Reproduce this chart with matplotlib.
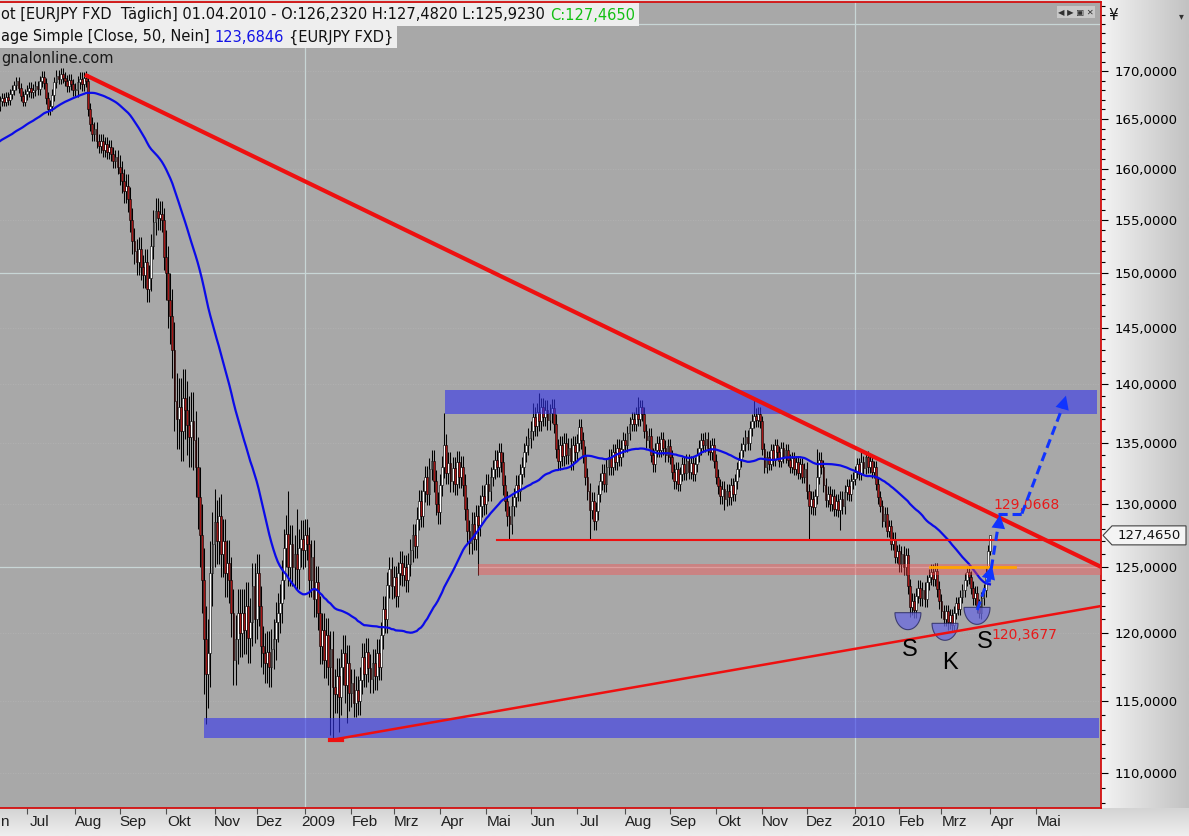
import numpy as np
import pandas as pd
import matplotlib
matplotlib.use("Agg")
import matplotlib.pyplot as plt
from matplotlib import patches, transforms
from matplotlib.colors import LinearSegmentedColormap
from matplotlib.ticker import FixedLocator, FuncFormatter, NullFormatter

# ---------------- daten (EURJPY, täglich) ----------------
month_labels = ['Jun', 'Jul', 'Aug', 'Sep', 'Okt', 'Nov', 'Dez', '2009', 'Feb', 'Mrz',
                'Apr', 'Mai', 'Jun', 'Jul', 'Aug', 'Sep', 'Okt', 'Nov', 'Dez', '2010',
                'Feb', 'Mrz', 'Apr']

closes_by_month = [
    [166.3, 166.9, 167.2, 166.8, 167.3, 167.0, 167.6, 168.0, 168.5, 168.9, 168.2, 167.4, 166.8, 167.6],
    [167.9, 168.2, 167.8, 168.0, 168.4, 168.1, 168.9, 169.4, 168.7, 167.2, 166.0, 166.4, 167.5, 168.8,
     169.5, 169.2, 169.7, 169.3, 169.0, 168.4, 169.1, 168.6, 168.0],
    [168.0, 168.8, 169.2, 168.6, 169.3, 169.0, 166.0, 164.5, 163.5, 164.0, 162.8, 162.3, 162.8, 161.9,
     162.5, 161.7, 162.2, 161.5, 160.8, 161.2, 160.2],
    [159.6, 158.8, 157.8, 158.3, 157.0, 155.0, 153.0, 152.0, 151.0, 152.2, 150.5, 149.8, 151.0, 148.5,
     149.5, 152.5, 154.8, 155.9, 155.2, 155.6, 155.0, 151.5],
    [150.0, 147.5, 146.0, 143.0, 138.5, 137.0, 138.0, 136.0, 138.8, 137.8, 136.5, 135.5, 136.8, 135.2,
     133.0, 130.5, 127.5, 124.0, 119.5, 117.0, 118.5, 124.5, 126.8],
    [128.5, 127.0, 129.0, 126.0, 127.0, 124.5, 125.3, 124.0, 121.5, 118.0, 119.5, 121.5, 120.0, 121.5,
     120.2, 122.0, 119.6, 120.8, 123.5, 121.0],
    [124.5, 122.0, 119.0, 118.5, 117.8, 118.6, 117.5, 118.8, 119.5, 120.8, 121.5, 122.2, 124.0, 126.5,
     127.6, 125.0, 126.8, 125.0, 126.0, 124.8, 126.5, 127.2, 126.3],
    [127.5, 126.8, 124.0, 125.8, 122.5, 123.8, 121.5, 119.0, 120.2, 118.0, 119.8, 117.5, 118.8, 116.0,
     115.5, 116.8, 115.3, 117.5, 118.5, 116.2, 117.8, 115.6],
    [116.3, 114.9, 115.8, 115.0, 116.5, 118.2, 117.0, 118.6, 117.4, 116.6, 117.8, 116.8, 118.5, 117.5,
     119.8, 121.8, 121.0, 123.6, 124.8, 123.5],
    [124.2, 122.8, 124.5, 125.3, 124.4, 125.0, 124.0, 125.2, 126.3, 127.5, 126.6, 128.8, 130.2, 129.0,
     131.0, 132.2, 130.8, 132.8, 133.5, 131.8, 130.0, 129.3],
    [131.5, 133.0, 134.8, 132.5, 133.3, 131.8, 132.9, 131.6, 133.4, 132.2, 133.0, 131.5, 129.6, 127.8,
     126.9, 128.4, 127.2, 129.0, 128.3, 129.8, 130.6, 130.0],
    [131.6, 131.0, 132.2, 132.8, 133.6, 133.0, 134.2, 133.4, 131.5, 130.2, 129.0, 128.4, 129.8, 130.5,
     131.5, 131.0, 132.4, 133.0, 134.2, 134.8, 135.4],
    [136.0, 137.2, 136.4, 137.6, 136.8, 138.0, 137.2, 137.8, 136.9, 137.5, 137.9, 136.6, 134.5, 133.5,
     134.8, 133.9, 135.0, 134.0, 134.6, 133.5, 134.8, 134.2],
    [135.0, 136.3, 135.2, 134.0, 132.2, 131.0, 129.5, 130.2, 128.6, 129.4, 130.8, 131.8, 132.5, 131.6,
     133.0, 133.8, 133.0, 134.2, 133.4, 134.6, 133.8, 134.5, 135.2],
    [134.8, 135.8, 136.6, 137.0, 136.6, 137.4, 137.0, 138.0, 137.4, 136.0, 135.2, 135.6, 134.0, 133.2,
     134.4, 135.0, 134.4, 135.3, 134.6, 134.0, 134.7],
    [133.8, 132.6, 131.8, 132.8, 131.6, 132.4, 133.2, 132.5, 133.5, 132.6, 133.3, 132.4, 133.2, 134.0,
     134.6, 135.2, 134.8, 135.3, 134.6, 134.2, 134.8, 133.5],
    [132.2, 131.4, 130.6, 131.2, 130.4, 131.0, 130.5, 131.5, 130.8, 131.8, 132.8, 133.6, 134.4, 134.9,
     135.5, 135.0, 136.2, 136.8, 137.3, 136.9, 137.4, 136.8],
    [134.5, 133.0, 133.8, 133.2, 134.4, 133.6, 134.8, 134.2, 133.5, 134.6, 133.8, 134.4, 133.6, 133.0,
     133.7, 132.8, 133.4, 132.5, 133.2, 132.2, 132.8],
    [131.0, 129.8, 130.4, 129.7, 130.6, 132.2, 133.6, 133.0, 131.5, 130.3, 130.8, 130.0, 130.6, 129.6,
     130.2, 129.5, 130.4, 129.8, 130.9, 131.4, 130.8, 131.8, 132.0],
    [132.6, 133.2, 132.4, 133.4, 132.9, 133.8, 133.0, 133.5, 132.6, 133.0, 131.6, 130.5, 129.8, 128.6,
     129.2, 127.8, 128.2, 126.8, 127.2, 125.8, 126.2],
    [125.2, 126.0, 125.0, 125.9, 123.5, 121.9, 122.4, 121.7, 122.8, 123.4, 122.6, 123.2, 122.5, 123.8,
     124.2, 124.6, 124.1, 124.7, 123.3, 122.4],
    [121.6, 121.0, 121.6, 120.8, 121.3, 120.6, 121.5, 122.2, 121.8, 122.7, 123.2, 124.0, 124.6, 124.2,
     123.4, 122.6, 123.0, 122.0, 121.5, 122.6, 123.2, 124.5, 126.232],
    [127.465],
]

# schlusskurse vor dem sichtbaren bereich (nur für den gleitenden durchschnitt)
pre_closes = [160.2, 159.5, 160.8, 161.5, 160.9, 162.0, 161.3, 160.5, 161.8, 162.4,
              161.0, 160.3, 159.8, 160.6, 161.4, 162.1, 161.7, 160.9, 161.6, 162.3,
              161.2, 160.8, 161.9, 162.6, 162.0, 161.4, 162.2, 161.5, 162.4, 163.0,
              163.4, 162.8, 163.6, 164.2, 163.5, 162.9, 163.8, 164.5, 163.9, 164.8,
              165.3, 164.6, 165.0, 164.2, 163.7, 164.9, 165.4, 165.8, 166.0]

# typische dochtlänge je monat
wick_by_month = [0.5, 0.6, 0.7, 1.2, 2.5, 1.8, 1.5, 1.3, 1.0, 0.9, 0.9, 0.8,
                 0.8, 0.7, 0.6, 0.6, 0.6, 0.5, 0.6, 0.5, 0.6, 0.5, 0.0]

# auffällige hochs / tiefs (index des balkens -> kurs)
high_marks = {41: 169.9, 103: 131.2, 105: 130.5, 138: 131.0, 142: 129.6, 212: 137.5,
              254: 138.4, 257: 139.2, 304: 138.9, 359: 138.6, 389: 134.5, 410: 134.4,
              471: 127.482}
low_marks = {98: 115.5, 99: 113.4, 158: 112.6, 159: 112.2, 162: 112.8, 166: 113.5,
             228: 124.4, 243: 127.1, 281: 127.1, 345: 129.5, 385: 127.2, 400: 127.9,
             433: 121.2, 451: 120.2, 466: 121.1, 471: 125.923}

last_close = 127.465
y_major = list(range(110, 171, 5))

# ---------------- layout (pixel) ----------------
W, H = 1189, 836
PLOT_R, PLOT_T, PLOT_B = 1101, 2, 808
BAR_PX = 2.107
X_LEFT = 1.19
X_RIGHT = X_LEFT + PLOT_R / BAR_PX
Y_LOW, Y_HIGH = 107.64, 177.43
month_offset_first = 8      # juni 2008 begann 8 balken vor dem ersten sichtbaren
days_april_2010 = 22

# ---------------- berechnungen ----------------
closes = np.concatenate(closes_by_month)
idx = np.arange(len(closes))
opens = np.concatenate([[pre_closes[-1]], closes[:-1]])
lens = [len(m) for m in closes_by_month]
wick = np.repeat(wick_by_month, lens)
highs = np.maximum(opens, closes) + wick
lows = np.minimum(opens, closes) - wick
for k, v in high_marks.items():
    highs[k] = v
for k, v in low_marks.items():
    lows[k] = v

ma = pd.Series(np.concatenate([pre_closes, closes])).rolling(50).mean().to_numpy()[len(pre_closes):]

month_starts = list(np.cumsum([0] + lens[:-1]))
month_starts[0] = -month_offset_first
month_starts.append(month_starts[-1] + days_april_2010)
all_labels = month_labels + ['Mai']

# ---------------- figur ----------------
fig = plt.figure(figsize=(W / 100, H / 100), dpi=100)
fig.patch.set_facecolor('#dcdcdc')

rp = fig.add_axes([PLOT_R / W, 0, 1 - PLOT_R / W, 1], zorder=0)
rp.imshow(np.linspace(0, 1, 64)[None, :], aspect='auto', extent=[0, 1, 0, 1],
          cmap=LinearSegmentedColormap.from_list('g1', ['#f3f3f3', '#c2c2c2']))
rp.axis('off')
bp = fig.add_axes([0, 0, 1, (H - PLOT_B) / H], zorder=0)
bp.imshow(np.linspace(0, 1, 16)[:, None], aspect='auto', extent=[0, 1, 0, 1],
          cmap=LinearSegmentedColormap.from_list('g2', ['#d4d4d4', '#eeeeee']))
bp.axis('off')

ax = fig.add_axes([0, 1 - PLOT_B / H, PLOT_R / W, (PLOT_B - PLOT_T) / H], zorder=2)
ax.set_facecolor('#a8a8a8')
ax.set_yscale('log')

for s in ['top', 'right', 'bottom']:
    ax.spines[s].set_color('#d41010')
    ax.spines[s].set_linewidth(1.3)
ax.spines['left'].set_visible(False)

# y-achse rechts
ax.yaxis.tick_right()
ax.yaxis.set_major_locator(FixedLocator(y_major))
ax.yaxis.set_major_formatter(FuncFormatter(lambda v, p: f"{v:.4f}".replace('.', ',')))
ax.yaxis.set_minor_locator(FixedLocator(np.arange(108, 178, 1)))
ax.yaxis.set_minor_formatter(NullFormatter())
ax.tick_params(axis='y', which='major', length=5, width=0.8, color='black',
               labelsize=9.5, pad=5, labelcolor='black')
ax.tick_params(axis='y', which='minor', length=3, width=0.8, color='black')

# x-achse: monatsanfänge
ax.set_xticks(month_starts)
ax.set_xticklabels([])
ax.tick_params(axis='x', length=4, width=0.8, color='#505050')

# grenzen erst nach set_xticks (sonst werden sie erweitert)
ax.set_xlim(X_LEFT, X_RIGHT)
ax.set_ylim(Y_LOW, Y_HIGH)

lab_trans = transforms.offset_copy(transforms.blended_transform_factory(ax.transData, ax.transAxes),
                                   fig=fig, x=13, y=-14, units='dots')
lab_font = dict(fontsize=11, family=['Liberation Sans Narrow', 'Liberation Sans'], color='#202020')
for m, lab in zip(month_starts, all_labels):
    if m < X_LEFT:
        # nur das sichtbare ende des abgeschnittenen ersten monats
        ax.text(0.5 / PLOT_R, 0, lab[-1:], transform=transforms.offset_copy(
            ax.transAxes, fig=fig, x=0, y=-14, units='dots'),
            ha='left', va='center', clip_on=False, **lab_font)
        continue
    ax.text(m, 0, lab, transform=lab_trans, ha='center', va='center', clip_on=False, **lab_font)

# gitter
for v in range(110, 176, 5):
    ax.axhline(v, color='#b4b4b4', lw=0.6, ls=(0, (1, 2)), zorder=1)
for v in (125, 150, 175):
    ax.axhline(v, color='#c8d6d6', lw=0.9, zorder=1)
for k in (month_labels.index('2009'), month_labels.index('2010')):
    ax.axvline(month_starts[k], color='#c8d6d6', lw=0.9, zorder=1)

# kerzen
up = closes >= opens
body = np.maximum(np.abs(closes - opens), 0.08)
bottom = np.minimum(opens, closes)
ax.vlines(idx, lows, highs, color='black', lw=0.75, zorder=3)
ax.bar(idx[up], body[up], bottom=bottom[up], width=0.85, color='white',
       edgecolor='black', linewidth=0.4, zorder=4)
ax.bar(idx[~up], body[~up], bottom=bottom[~up], width=0.85, color='#a51616',
       edgecolor='black', linewidth=0.4, zorder=4)

# gleitender durchschnitt 50
ax.plot(idx, ma, color='#0b0be8', lw=1.6, zorder=5)

# zonen
ax.fill_between([212.4, 521.8], 137.4, 139.5, color='#3434ee', alpha=0.6, lw=0, zorder=6)
ax.fill_between([98, 523], 112.4, 113.8, color='#3434ee', alpha=0.6, lw=0, zorder=6)
ax.fill_between([228, X_RIGHT], 124.4, 125.2, color='#ff4a4a', alpha=0.4, lw=0, zorder=6)
ax.plot([442.6, 482.9], [125.0, 125.0], color='#ffa500', lw=2, zorder=7)

# trendlinien
ax.plot([41.5, X_RIGHT], [169.6, 125.0], color='#ee1010', lw=3.0, zorder=8,
        solid_capstyle='butt')
ax.plot([159.2, X_RIGHT], [112.3, 122.0], color='#ee1010', lw=1.8, zorder=8)
ax.plot([157.6, 163.3], [112.25, 112.25], color='#ee1010', lw=3.0, zorder=8)
ax.plot([237.1, X_RIGHT], [127.1, 127.1], color='#ee1010', lw=1.5, zorder=8)

# schulter-kopf-schulter
cups = [(432.1, 121.5), (449.7, 120.7), (464.9, 121.9)]
t = np.linspace(np.pi, 2 * np.pi, 40)
for ci, cp in cups:
    xd, yd = ax.transData.transform((ci, cp))
    pts = np.column_stack([xd + 13 * np.cos(t), yd + 17 * np.sin(t)])
    ax.add_patch(patches.Polygon(pts, closed=True, transform=transforms.IdentityTransform(),
                                 facecolor='#6a6ae0', alpha=0.75, edgecolor='#20205a',
                                 lw=0.8, zorder=7))
for (lx, ly, s) in [(433, 118.7, 'S'), (452, 117.8, 'K'), (468.6, 119.3, 'S')]:
    ax.text(lx, ly, s, ha='center', va='center', fontsize=17, family='Liberation Sans',
            color='black', zorder=9)

ax.text(472.5, 129.9, '129,0668', color='#e81a1a', fontsize=10, ha='left', va='center', zorder=9)
ax.text(471.5, 119.8, '120,3677', color='#e81a1a', fontsize=10, ha='left', va='center', zorder=9)

# prognose-pfeile
dash = dict(color='#1034ff', lw=2.2, ls=(0, (3, 1.6)), zorder=10)
ax.plot([465, 471.3], [121.7, 124.6], **dash)
ax.plot([470.6, 475.2], [123.8, 128.5], **dash)
ax.plot([475, 486.2], [129.2, 129.2], **dash)
ax.plot([486.2, 506.5], [129.2, 138.5], **dash)
for (x0, y0, x1, y1) in [(470.5, 124.2, 472, 125.1), (475.2, 128.3, 475.8, 129.1),
                         (505.5, 138.0, 507.1, 139.0)]:
    ax.annotate('', xy=(x1, y1), xytext=(x0, y0),
                arrowprops=dict(arrowstyle='-|>,head_length=0.7,head_width=0.35',
                                color='#1034ff', lw=0, shrinkA=0, shrinkB=0,
                                mutation_scale=14), zorder=10)

# kopfzeilen
hdr = dict(fontsize=10.5, family='DejaVu Sans', va='center', ha='left', zorder=12)
t1 = fig.text(1 / W, 1 - 15 / H, "ot [EURJPY FXD  Täglich] 01.04.2010 - O:126,2320 H:127,4820 L:125,9230",
              color='#111111', **hdr)
t2 = fig.text(1 / W, 1 - 37 / H, "age Simple [Close, 50, Nein]", color='#111111', **hdr)
fig.text(1 / W, 1 - 59 / H, "gnalonline.com", color='#1a1a1a', **hdr)
fig.canvas.draw()
r = fig.canvas.get_renderer()
e1 = t1.get_window_extent(r)
t1b = fig.text((e1.x1 + 5) / W, 1 - 15 / H, "C:127,4650", color='#12c012', **hdr)
e2 = t2.get_window_extent(r)
t2b = fig.text((e2.x1 + 5) / W, 1 - 37 / H, "123,6846", color='#1414e6', **hdr)
fig.canvas.draw()
e2b = t2b.get_window_extent(r)
t2c = fig.text((e2b.x1 + 5) / W, 1 - 37 / H, "{EURJPY FXD}", color='#111111', **hdr)
fig.canvas.draw()
e1b = t1b.get_window_extent(r)
e2c = t2c.get_window_extent(r)
fig.add_artist(patches.Rectangle((0, H - 26), e1b.x1 + 4, 23, transform=transforms.IdentityTransform(),
                                 facecolor='#eeeeee', edgecolor='none', zorder=11))
fig.add_artist(patches.Rectangle((0, H - 48), e2c.x1 + 4, 22, transform=transforms.IdentityTransform(),
                                 facecolor='#eeeeee', edgecolor='none', zorder=11))

# symbole oben rechts
fig.text(1058 / W, 1 - 12 / H, '◀ ▶ ▣ ✕', fontsize=6, color='#303030', ha='left', va='center',
         zorder=12, bbox=dict(facecolor='#c8c8c8', edgecolor='none', pad=1))
fig.text(1108 / W, 1 - 15 / H, '¥', fontsize=11, color='#111111', ha='left', va='center', zorder=12)
fig.text(1181 / W, 1 - 16 / H, '▾', fontsize=7, color='#333333', ha='center', va='center', zorder=12)

# kursmarke
yd = ax.transData.transform((X_LEFT, last_close))[1]
tag = [(1103, yd), (1112, yd + 9.5), (1186, yd + 9.5), (1186, yd - 9.5), (1112, yd - 9.5)]
fig.add_artist(patches.Polygon(tag, closed=True, transform=transforms.IdentityTransform(),
                               facecolor='#f4f4f4', edgecolor='#404040', lw=0.8, zorder=12))
fig.text(1149 / W, yd / H, f"{last_close:.4f}".replace('.', ','), fontsize=9.5, color='#111111',
         ha='center', va='center', zorder=13)

fig.savefig('out.png', dpi=100)
